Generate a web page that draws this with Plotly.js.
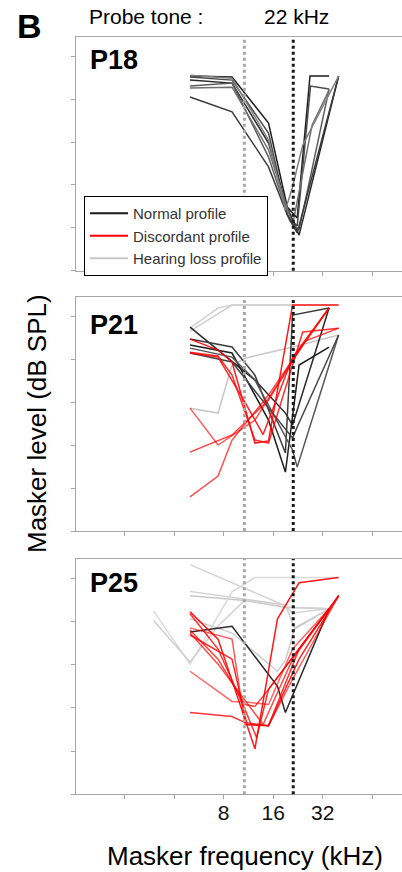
<!DOCTYPE html>
<html><head><meta charset="utf-8">
<script src="https://cdn.plot.ly/plotly-3.0.1.min.js"></script>
<style>html,body{margin:0;padding:0;background:#fff;} #chart{width:402px;height:872px;}</style>
</head><body><div id="chart"></div>
<script>
// ---------- data (frequency in kHz, masker level in dB SPL, estimated) ----------
const panelNames = ['P18', 'P21', 'P25'];
const freqTicks = [2, 4, 8, 16, 32, 64];
const freqTickText = ['', '', '8', '16', '32', ''];
const levelTicks = [0, 20, 40, 60, 80, 100];
const markerLinesKHz = [10.7, 21.2];   // half-probe and probe tone (22 kHz) markers
const probeLabel = '22 kHz';

// P18 - normal profile
const p18NormalFreq = [
  [5, 9, 15, 19.5, 22.4, 26.8, 35],
  [5, 9, 15, 19.5, 22.4, 27, 35],
  [5, 9, 15, 19, 23, 40],
  [5, 9, 15, 20.2, 23, 35],
  [5, 9, 15, 21, 27.6, 35],
  [5, 9, 15, 19.5, 22.4, 40],
  [5, 9, 15, 19, 21, 24.2, 40]
];
const p18NormalLevel = [
  [90.8, 90.3, 68.9, 29.7, 24.6, 90.8, 90.8],
  [90.3, 88.9, 64.2, 26.0, 20.8, 86.1, 84.7],
  [88.9, 87.5, 59.5, 31.6, 16.6, 90.8],
  [86.1, 87.5, 53.0, 23.2, 19.0, 84.7],
  [85.2, 85.6, 56.3, 21.3, 68.0, 84.2],
  [81.0, 74.1, 48.4, 26.0, 17.6, 90.8],
  [91.2, 89.8, 61.0, 28.3, 39.1, 58.6, 90.8]
];
const p18NormalColor = ['#1e1e1e', '#4a4a4a', '#2a2a2a', '#5c5c5c', '#707070', '#3a3a3a', '#808080'];

// P21
const p21LossFreq = [
  [5, 7.4, 9, 40],
  [5, 9, 21],
  [5, 7.4, 9, 10.8, 21, 40]
];
const p21LossLevel = [
  [94.6, 104.0, 105.4, 105.4],
  [93.2, 105.4, 105.4],
  [57.3, 55.0, 77.4, 80.6, 85.8, 91.4]
];
const p21NormalFreq = [
  [5, 12.4, 19, 21, 35],
  [5, 9, 12.4, 19, 21, 35],
  [5, 9, 15, 19, 23, 35],
  [5, 9, 12.4, 21, 22.4, 40],
  [5, 9, 15, 21, 22.4, 40]
];
const p21NormalLevel = [
  [95.1, 70.4, 55.0, 49.4, 104.0],
  [89.5, 85.8, 72.7, 36.4, 100.7, 104.0],
  [86.7, 83.0, 51.7, 27.5, 77.4, 85.8],
  [85.3, 81.1, 70.4, 37.8, 29.8, 91.4],
  [83.0, 78.8, 57.3, 43.4, 48.5, 91.4]
];
const p21DiscFreq = [
  [5, 7.4, 9, 12.4, 15, 21, 40],
  [5, 7.4, 9, 12.4, 15, 24.2, 40],
  [5, 7.4, 12.4, 21, 35],
  [5, 9, 15, 25, 40],
  [5, 7.4, 9, 15, 23, 35],
  [5, 7.4, 10.8, 13.9, 21, 35]
];
const p21DiscLevel = [
  [89.5, 84.4, 78.8, 41.0, 42.0, 105.4, 105.4],
  [83.4, 81.6, 72.7, 42.4, 41.0, 92.8, 94.6],
  [57.3, 40.1, 51.7, 79.7, 104.0],
  [36.8, 44.8, 61.1, 88.6, 94.6],
  [15.9, 25.6, 42.4, 63.4, 84.4, 104.0],
  [83.0, 81.1, 60.0, 45.0, 81.0, 104.0]
];

// P25
const p25LossFreq = [
  [5, 10.8, 19, 21, 35],
  [5, 19, 21.7, 35],
  [5, 10.8, 19, 35],
  [3, 5, 7.4, 9, 12.4, 40],
  [3, 5, 7.4, 10.8, 19, 35],
  [5, 9, 17, 19, 21.7, 35]
];
const p25LossLevel = [
  [106.4, 95.2, 87.3, 84.0, 85.9],
  [94.0, 87.7, 76.6, 85.9],
  [92.0, 89.8, 86.6, 85.9],
  [85.0, 60.3, 82.7, 93.8, 100.4, 100.4],
  [80.5, 61.3, 78.0, 90.0, 86.6, 85.9],
  [81.3, 74.7, 57.0, 62.0, 77.1, 85.9]
];
const p25NormalFreq = [[5, 9, 17, 19, 35]];
const p25NormalLevel = [[75.2, 77.8, 50.0, 37.9, 85.9]];
const p25DiscFreq = [
  [5, 7.4, 12.4, 17, 23, 40],
  [5, 7.4, 10.8, 12.7, 15, 35],
  [5, 9, 10.8, 15, 21, 40],
  [5, 7.4, 10.8, 12.4, 15, 35],
  [5, 7.4, 13.9, 21, 40],
  [5, 9, 11.1, 15, 23, 40],
  [5, 9, 11.3, 15, 21, 35],
  [5, 9, 10.8, 15, 23, 40]
];
const p25DiscLevel = [
  [84.5, 71.9, 21.1, 81.3, 98.0, 100.4],
  [83.6, 67.3, 39.3, 26.2, 48.6, 85.9],
  [77.1, 71.9, 32.3, 31.8, 53.3, 92.0],
  [76.1, 62.6, 41.6, 40.7, 48.6, 85.9],
  [74.7, 60.3, 32.3, 62.6, 92.0],
  [73.8, 62.6, 32.3, 31.8, 62.6, 92.0],
  [57.0, 43.0, 42.6, 41.6, 67.3, 85.9],
  [37.9, 36.0, 33.2, 31.8, 67.3, 92.0]
];

const lossColors = ['#d4d4d4', '#cfcfcf', '#c8c8c8', '#d9d9d9', '#d0d0d0', '#cccccc'];
const normalColors = ['#2a2a2a', '#3c3c3c', '#1e1e1e', '#555555', '#464646'];
const discAlpha = [0.9, 0.8, 0.65, 0.75, 0.7, 0.85, 0.6, 0.8];

// ---------- build ----------
const FONT = '"Liberation Sans", Arial, sans-serif';
const W = 402, H = 872;
const yDomainsPx = [[37, 270.7], [297.3, 531], [559, 794.3]];
const traces = [];

function axSuffix(i) { return i === 0 ? '' : String(i + 1); }
function addLines(freqs, levels, colorFn, panel) {
  freqs.forEach((f, k) => {
    traces.push({
      type: 'scatter', mode: 'lines', x: f, y: levels[k],
      xaxis: 'x' + axSuffix(panel), yaxis: 'y' + axSuffix(panel),
      line: { color: colorFn(k), width: 1.5 }, showlegend: false, hoverinfo: 'skip'
    });
  });
}
addLines(p18NormalFreq, p18NormalLevel, k => p18NormalColor[k], 0);
addLines(p21LossFreq, p21LossLevel, k => lossColors[k], 1);
addLines(p21NormalFreq, p21NormalLevel, k => normalColors[k], 1);
addLines(p21DiscFreq, p21DiscLevel, k => 'rgba(255,0,0,' + discAlpha[k] + ')', 1);
addLines(p25LossFreq, p25LossLevel, k => lossColors[k], 2);
addLines(p25NormalFreq, p25NormalLevel, k => normalColors[k], 2);
addLines(p25DiscFreq, p25DiscLevel, k => 'rgba(255,0,0,' + discAlpha[k] + ')', 2);

// legend entries
[['Normal profile', '#1a1a1a'], ['Discordant profile', '#ff0000'], ['Hearing loss profile', '#c8c8c8']]
  .forEach(([name, c]) => traces.push({
    type: 'scatter', mode: 'lines', x: [null], y: [null], name: name,
    line: { color: c, width: 2 }, xaxis: 'x', yaxis: 'y', hoverinfo: 'skip'
  }));

const layout = {
  width: W, height: H, margin: { l: 0, r: 0, t: 0, b: 0 },
  paper_bgcolor: '#fff', plot_bgcolor: '#fff',
  font: { family: FONT, color: '#000' },
  showlegend: true,
  legend: {
    x: 84 / W, y: 1 - 196 / H, xanchor: 'left', yanchor: 'top',
    bgcolor: '#fff', bordercolor: '#000', borderwidth: 1, itemwidth: 38,
    font: { size: 15, family: FONT, color: '#333' }, tracegroupgap: 0
  },
  shapes: [], annotations: []
};

for (let i = 0; i < 3; i++) {
  const s = axSuffix(i);
  layout['xaxis' + s] = {
    domain: [76 / W, 1], type: 'log', range: [Math.log10(1.014), Math.log10(97.1)],
    anchor: 'y' + s, showline: true, mirror: true, linecolor: '#a6a6a6', linewidth: 1,
    ticks: 'outside', ticklen: 4, tickcolor: '#a6a6a6', tickwidth: 1,
    tickvals: freqTicks, ticktext: i === 2 ? freqTickText : freqTicks.map(() => ''),
    ticklabelstandoff: -5,
    showgrid: false, zeroline: false,
    tickfont: { size: 21, family: FONT, color: '#111' }
  };
  const d = yDomainsPx[i];
  layout['yaxis' + s] = {
    domain: [1 - d[1] / H, 1 - d[0] / H], range: [0, 109], anchor: 'x' + s,
    showline: true, linecolor: '#a6a6a6', linewidth: 1,
    ticks: 'outside', ticklen: 4, tickcolor: '#a6a6a6', tickvals: levelTicks,
    showticklabels: false, showgrid: false, zeroline: false
  };
  markerLinesKHz.forEach((f, j) => layout.shapes.push({
    type: 'line', xref: 'x' + s, yref: 'y' + s + ' domain', x0: f, x1: f, y0: 0, y1: 1,
    line: { color: j === 0 ? '#a8a8a8' : '#1a1a1a', width: 3, dash: 'dot' }, layer: 'above'
  }));
  layout.annotations.push({
    text: '<b>' + panelNames[i] + '</b>', xref: 'paper', yref: 'paper',
    x: 88 / W, y: 1 - [60, 325.5, 582.5][i] / H, xanchor: 'left', yanchor: 'middle',
    showarrow: false, font: { size: 27, family: FONT, color: '#000' }
  });
}

layout.annotations.push(
  { text: '<b>B</b>', xref: 'paper', yref: 'paper', x: 29 / W, y: 1 - 26 / H,
    xanchor: 'center', yanchor: 'middle', showarrow: false, font: { size: 34, family: FONT, color: '#000' } },
  { text: 'Probe tone :', xref: 'paper', yref: 'paper', x: 87 / W, y: 1 - 17 / H,
    xanchor: 'left', yanchor: 'middle', showarrow: false, font: { size: 21, family: FONT, color: '#000' } },
  { text: probeLabel, xref: 'paper', yref: 'paper', x: 262 / W, y: 1 - 17 / H,
    xanchor: 'left', yanchor: 'middle', showarrow: false, font: { size: 21, family: FONT, color: '#000' } },
  { text: 'Masker level (dB SPL)', xref: 'paper', yref: 'paper', x: 37 / W, y: 1 - 424 / H,
    xanchor: 'center', yanchor: 'middle', textangle: -90, showarrow: false,
    font: { size: 26, family: FONT, color: '#000' } },
  { text: 'Masker frequency (kHz)', xref: 'paper', yref: 'paper', x: 245 / W, y: 1 - 856 / H,
    xanchor: 'center', yanchor: 'middle', showarrow: false, font: { size: 26, family: FONT, color: '#000' } }
);

Plotly.newPlot('chart', traces, layout, { staticPlot: true, displayModeBar: false });
</script></body></html>
